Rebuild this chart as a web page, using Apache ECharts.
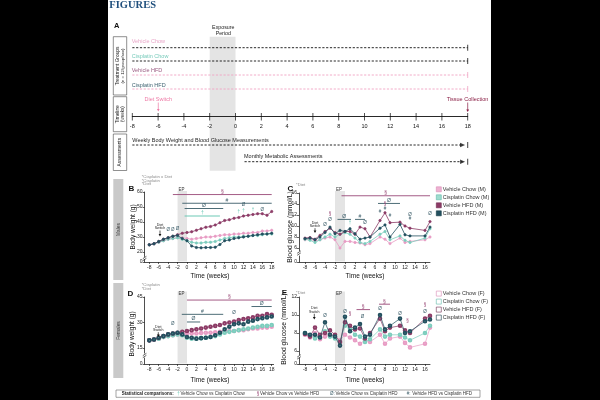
<!DOCTYPE html>
<html><head><meta charset="utf-8">
<script src="https://cdn.jsdelivr.net/npm/echarts@6.0.0/dist/echarts.min.js"></script>
<style>
html,body{margin:0;padding:0;background:#000;}
#c{width:600px;height:400px;background:linear-gradient(to right,#000 108.5px,#fff 108.5px,#fff 490.7px,#000 490.7px);}
</style>
</head><body><div id="c"></div>
<script>
// ---------------- DATA ----------------
const groupNames = ['Vehicle Chow','Cisplatin Chow','Vehicle HFD','Cisplatin HFD'];
const timelineTicks = [-8,-6,-4,-2,0,2,4,6,8,10,12,14,16,18];
const exposureWeeks = [-2,0];
const studyWeeks = [-8,18];
const dietSwitchWeek = -6;
const tissueWeek = 18;
const weeklyAssess = [-8,17.6];
const monthlyAssess = [0.7,17.6];

const bwTicks = [-8,-6,-4,-2,0,2,4,6,8,10,12,14,16,18];
const bgTicks = [-8,-6,-4,-2,0,2,4,6,8,10,12,14,16];
const bwMaleYTicks = [20,30,40,50,60];
const bgMaleYTicks = [6,8,10,12,14,16];
const bwFemYTicks = [15,30,45];
const bgFemYTicks = [6,8,10,12];

const weeksBW = [-8,-7,-6,-5,-4,-3,-2,-1,0,1,2,3,4,5,6,7,8,9,10,11,12,13,14,15,16,17,18];
const bwVehChowM = [24.8,25.5,26.5,27.5,28.5,29,29.5,29.5,29,28.5,29,29.5,30,30,30.5,31,31.5,31.5,32,32,32.5,32.5,33,33,34,34,34.5];
const bwCisChowM = [24.8,25.5,26.5,27.5,28.5,29,29.5,28.5,27.5,26.5,26,26,26.5,26.5,27,28,29,29.5,30,30,30.5,30.5,31,31,31.5,32,32];
const bwVehHfdM  = [24.8,25.5,27,28.5,29.5,30.5,31.5,32.5,33,33.5,34.5,35.5,36.5,37,38,39.5,41,41.5,42.5,43,44,44.5,45,45.5,45.5,44.5,47];
const bwCisHfdM  = [24.8,25.5,27,28.5,29.5,30.5,31,29,27.5,24,23,22.8,23,23,23.2,25,27.5,28,29,29.5,30,30.5,31,31.5,32,32,32.5];

const bwVehChowF = [19.5,20,20.5,21.5,22,22.5,23,23.5,23.5,23.5,23.5,23.8,24,24,24.3,24.5,24.5,25,25,25.5,25.5,26,26.5,26.5,27,27,27.5];
const bwCisChowF = [19.5,20,20.5,21.5,22,22.5,23,22.5,21,20.5,20.5,20.8,21,21.5,22,23,24,24.5,25,25.5,26,26.5,27,27.5,28,28,28.5];
const bwVehHfdF  = [19.5,20,21,22,23,23.5,24,24.5,25,25.5,26,26.5,27,27.5,28,28.5,29.5,30,30.5,31.5,32,32.5,33,34,34,35,34.5];
const bwCisHfdF  = [19.5,20,21,22,23,23.5,24,23,21.5,21,20.5,20.8,21,21.5,22.5,24,26,27.5,29,29.5,29,30.5,31,32,32.5,33,33.5];

const weeksBG = [-8,-7,-6,-5,-4,-3,-2,-1,0,1,2,3,4,5,7,8,9,11,12,13,16,17];
const bgVehChowM = [7.5,7.6,7.3,7.5,7.8,8.0,7.5,6.0,7.2,7.2,7.0,6.9,6.6,6.8,8.0,7.6,6.8,7.8,7.0,7.2,7.5,8.0];
const bgCisChowM = [7.6,7.4,7.0,7.5,8.0,8.5,8.0,8.5,8.8,8.5,7.8,7.0,6.8,7.2,8.5,9.0,7.5,8.2,7.4,7.0,7.8,9.5];
const bgVehHfdM  = [7.8,7.9,7.6,8.3,9.0,9.6,8.8,8.5,9.0,9.0,8.5,9.8,9.5,8.0,11.0,12.4,10.6,10.7,10.0,9.6,9.2,10.8];
const bgCisHfdM  = [7.7,7.8,7.5,8.0,8.8,9.8,8.6,9.2,9.0,9.5,8.6,7.6,7.8,8.0,9.6,10.2,8.0,10.3,8.4,8.2,8.2,9.8];

const bgVehChowF = [7.8,7.5,8.0,7.3,7.6,7.8,7.6,7.2,7.8,7.5,7.2,6.8,7.2,7.0,7.8,6.8,7.4,7.6,6.9,6.4,6.8,8.6];
const bgCisChowF = [8.0,7.7,7.4,7.6,8.2,7.6,7.4,7.0,8.8,8.5,7.8,7.6,7.0,7.3,8.4,7.6,7.8,7.8,7.5,7.2,8.0,8.8];
const bgVehHfdF  = [7.9,7.6,8.6,7.8,8.0,8.3,7.8,7.0,9.2,8.8,8.4,8.5,7.4,8.0,9.6,8.2,8.6,8.8,8.3,8.0,9.6,9.9];
const bgCisHfdF  = [8.0,7.8,7.8,7.5,9.2,7.8,7.6,6.6,9.8,8.2,8.6,9.0,7.6,7.8,10.0,8.4,8.8,9.6,8.0,8.2,9.3,9.5];

// significance spans [fromWeek, toWeek, symbol]
const sigB = [[-3,18,'§'],[-1,18,'#'],[-0.5,7.7,'Ø'],[-0.5,7,'†']];
const sigC = [[-0.7,17,'§'],[6.6,11,'Ø'],[-1.5,1.2,'Ø'],[2,4,'#']];
const sigD = [[0,18,'§'],[-1.1,7.7,'#'],[0,2.8,'Ø'],[13.7,18,'Ø']];
const sigE = [[2.3,5,'§'],[6.8,9,'§']];
// point annotations [week, value, symbol]
const annB = [[-4,34.5,'Ø'],[-3,35,'Ø'],[-2,35.5,'Ø'],[11,47,'†'],[12,47.5,'†'],[12,51.5,'Ø'],[14,48,'†'],[16,48,'Ø']];
const annC = [[-4,10.3,'Ø'],[-3,12.2,'§'],[-3,11.2,'Ø'],[1,10.6,'†'],[4,10.6,'Ø'],[7,12.5,'#'],[8,14.0,'§'],[8,13.2,'#'],[9,11.8,'#'],[13,12.1,'Ø'],[13,11.3,'#'],[17,12.2,'Ø']];
const annD = [[-3,29.5,'Ø'],[10,35.5,'Ø']];
const annE = [[-4,9.9,'Ø'],[0,10.4,'Ø'],[1,10.1,'§'],[3.5,9.8,'Ø'],[7,10.7,'Ø'],[11,10.1,'Ø'],[12.5,9.4,'§'],[16,11.1,'§'],[16,10.4,'Ø']];

// ---------------- LAYOUT / STYLE ----------------
const FONT = '"Liberation Sans", Arial, sans-serif';
const COL = {vc:'#e89cc4', cc:'#7ccdbd', vh:'#8c3b66', ch:'#23505f'};
const SYMCOL = {'§':'#9a4a78','#':'#3a5c68','Ø':'#3a5c68','†':'#5cc3ad'};
const AX = '#222';
// lanes in panel A (axis units)
const laneGroups = [69,55.7,41.7,27.7];
const laneWeekly = -28.3, laneMonthly = -45;

const grids=[], xAxes=[], yAxes=[], series=[];
function addGrid(left, top, width, height){
  grids.push({left, top, width, height, show:false, containLabel:false, outerBoundsMode:'none'});
  return grids.length-1;
}
function hiddenX(g,min,max){ xAxes.push({type:'value', gridIndex:g, min, max, show:false}); }
function hiddenY(g,min,max){ yAxes.push({type:'value', gridIndex:g, min, max, show:false}); }
function visX(g,min,max,ticks){
  xAxes.push({type:'value', gridIndex:g, min, max, z:5,
    axisLine:{show:true, onZero:false, lineStyle:{color:AX,width:0.8}},
    axisTick:{show:true, length:2, customValues:ticks, lineStyle:{color:AX,width:0.7}},
    axisLabel:{show:true, customValues:ticks, fontSize:5, color:AX, margin:3, fontFamily:FONT},
    splitLine:{show:false}});
}
function visY(g,min,max,ticks){
  yAxes.push({type:'value', gridIndex:g, min, max, z:5,
    axisLine:{show:true, onZero:false, lineStyle:{color:AX,width:0.8}},
    axisTick:{show:true, length:2, customValues:ticks, lineStyle:{color:AX,width:0.7}},
    axisLabel:{show:true, customValues:ticks, fontSize:5, color:AX, margin:2, fontFamily:FONT},
    splitLine:{show:false}});
}

// Panel A: main lane grid
const gA = addGrid(132.3, 36.7, 335.4, 134);
hiddenX(gA,-8,18); hiddenY(gA,-54,80);
// Panel A: timeline axis grid (its bottom edge is the timeline)
const gT = addGrid(132.3, 106.7, 335.4, 10);
xAxes.push({type:'value', gridIndex:gT, min:-8, max:18, interval:2, z:6,
  axisLine:{show:true, onZero:false, lineStyle:{color:'#111', width:0.9}},
  axisTick:{show:false}, splitLine:{show:false},
  axisLabel:{show:true, fontSize:5.5, color:'#111', margin:7, fontFamily:FONT}});
hiddenY(gT,0,1);

function bandSeries(g, range, yTop, yBot){
  return {type:'custom', xAxisIndex:g, yAxisIndex:g, silent:true, z:1, data:[[range[0],range[1]]],
    renderItem:function(p,api){
      const a=api.coord([api.value(0),yTop]); const b=api.coord([api.value(1),yBot]);
      return {type:'rect', shape:{x:a[0],y:a[1],width:b[0]-a[0],height:b[1]-a[1]}, style:{fill:'#e4e4e4'}};
    }};
}
series.push(bandSeries(gA, exposureWeeks, 80, -54));
const groupLineCols = ['#111','#111','#f0a3c3','#f0a3c3'];
groupNames.forEach((n,i)=>{
  series.push({type:'line', xAxisIndex:gA, yAxisIndex:gA, silent:true, z:3, symbol:'none',
    data:[[studyWeeks[0],laneGroups[i]],[studyWeeks[1],laneGroups[i]]],
    lineStyle:{color:groupLineCols[i], width:0.9, type:[2.2,1.6]}});
});
series.push({type:'scatter', xAxisIndex:gA, yAxisIndex:gA, silent:true, z:4, symbol:'rect', symbolSize:[1,6],
  data: laneGroups.map((l,i)=>({value:[studyWeeks[1],l], itemStyle:{color:groupLineCols[i]}}))});
series.push({type:'scatter', xAxisIndex:gT, yAxisIndex:gT, silent:true, z:7, symbol:'rect', symbolSize:[0.9,7.5],
  clip:false, itemStyle:{color:'#111'}, data: timelineTicks.map(t=>[t,0])});
[[weeklyAssess,laneWeekly],[monthlyAssess,laneMonthly]].forEach(([rg,l])=>{
  series.push({type:'line', xAxisIndex:gA, yAxisIndex:gA, silent:true, z:3, symbol:'none',
    data:[[rg[0],l],[rg[1],l]], lineStyle:{color:'#111', width:0.9, type:[2.2,1.6]}});
});
series.push({type:'scatter', xAxisIndex:gA, yAxisIndex:gA, silent:true, z:4, symbol:'path://M0,0L10,5L0,10Z', symbolSize:[5,4.5],
  itemStyle:{color:'#111'}, data:[[weeklyAssess[1],laneWeekly],[monthlyAssess[1],laneMonthly]]});
series.push({type:'scatter', xAxisIndex:gA, yAxisIndex:gA, silent:true, z:4, symbol:'rect', symbolSize:[1,6],
  itemStyle:{color:'#111'}, data:[[tissueWeek,laneWeekly],[tissueWeek,laneMonthly]]});

// Panels B-E
const BWX = {left:144.6, width:129, min:-9, max:18.4};
const BGX = {left:299, width:131, min:-9.2, max:17};
const panels = [
  {x:BWX, ticks:bwTicks, mainTop:192, mainH:64.5, yMin:17, yMax:60, yTicks:bwMaleYTicks, lowTop:259.5, lowH:2.5, ovTop:191, ovH:70.5,
   weeks:weeksBW, data:[bwVehChowM,bwCisChowM,bwVehHfdM,bwCisHfdM], sex:'M', sig:sigB, sigLv:[58.3,52.5,49,44], ann:annB},
  {x:BGX, ticks:bgTicks, mainTop:193, mainH:57.75, yMin:5.5, yMax:16, yTicks:bgMaleYTicks, lowTop:256, lowH:6, ovTop:191, ovH:70.5,
   weeks:weeksBG, data:[bgVehChowM,bgCisChowM,bgVehHfdM,bgCisHfdM], sex:'M', sig:sigC, sigLv:[15.5,14.1,11.2,11.2], ann:annC},
  {x:BWX, ticks:bwTicks, mainTop:297, mainH:56.1, yMin:12, yMax:45, yTicks:bwFemYTicks, lowTop:358, lowH:6, ovTop:291.5, ovH:72,
   weeks:weeksBW, data:[bwVehChowF,bwCisChowF,bwVehHfdF,bwCisHfdF], sex:'F', sig:sigD, sigLv:[43.2,34.8,30.3,39.4], ann:annD},
  {x:BGX, ticks:bgTicks, mainTop:297, mainH:57.6, yMin:5.6, yMax:12, yTicks:bgFemYTicks, lowTop:358, lowH:6, ovTop:291.5, ovH:72,
   weeks:weeksBG, data:[bgVehChowF,bgCisChowF,bgVehHfdF,bgCisHfdF], sex:'F', sig:sigE, sigLv:[10.6,11.2], ann:annE}
];
const cols=[COL.vc,COL.cc,COL.vh,COL.ch];
panels.forEach(P=>{
  const gm = addGrid(P.x.left, P.mainTop, P.x.width, P.mainH);
  hiddenX(gm,P.x.min,P.x.max); visY(gm,P.yMin,P.yMax,P.yTicks);
  const gl = addGrid(P.x.left, P.lowTop, P.x.width, P.lowH);
  visX(gl,P.x.min,P.x.max,P.ticks); visY(gl,0,1,[0]);
  const go = addGrid(P.x.left, P.ovTop, P.x.width, P.ovH);
  hiddenX(go,P.x.min,P.x.max); hiddenY(go,0,1);
  series.push(bandSeries(go, exposureWeeks, 1, 0));
  P.data.forEach((arr,i)=>{
    const c=cols[i];
    series.push({type:'line', name:groupNames[i]+' ('+P.sex+')', xAxisIndex:gm, yAxisIndex:gm, z:5+i, silent:true,
      data: P.weeks.map((w,k)=>[w,arr[k]]),
      symbol: P.sex==='M'?'circle':'emptyCircle', symbolSize: P.sex==='M'?2.4:2.6, showSymbol:true,
      lineStyle:{color:c, width:P.sex==='M'?0.8:0.7}, itemStyle:{color:c, borderColor:c, borderWidth:0.6},
      emphasis:{disabled:true}});
  });
  series.push({type:'custom', xAxisIndex:gm, yAxisIndex:gm, silent:true, z:12,
    data: P.sig.map((s,i)=>[s[0],s[1],P.sigLv[i]]),
    renderItem:function(p,api){
      const s=P.sig[p.dataIndex]; const col=SYMCOL[s[2]];
      const a=api.coord([api.value(0),api.value(2)]); const b=api.coord([api.value(1),api.value(2)]);
      return {type:'group', children:[
        {type:'line', shape:{x1:a[0],y1:a[1],x2:b[0],y2:b[1]}, style:{stroke:col, lineWidth:0.9}},
        {type:'text', x:(a[0]+b[0])/2, y:a[1]-0.5, style:{text:s[2], fill:col, fontSize:5, fontFamily:FONT, align:'center', verticalAlign:'bottom'}}
      ]};
    }});
  series.push({type:'custom', xAxisIndex:gm, yAxisIndex:gm, silent:true, z:12,
    data: P.ann.map(a=>[a[0],a[1]]),
    renderItem:function(p,api){
      const s=P.ann[p.dataIndex][2]; const pt=api.coord([api.value(0),api.value(1)]);
      return {type:'text', x:pt[0], y:pt[1], style:{text:s, fill:SYMCOL[s], fontSize:4.5, fontFamily:FONT, align:'center', verticalAlign:'middle'}};
    }});
});

const legendFill = {M:[ '#eeb2d2','#9fdccf','#8c3b66','#23505f'], F:['#fff','#fff','#fff','#fff']};
const legendBorder = ['#d98ab5','#5fb9a7','#6e2a4f','#163a47'];
const legends = ['M','F'].map((sx,j)=>({
  orient:'vertical', left:436, top: sx==='M'?186.3:290.6, itemWidth:5, itemHeight:5, itemGap:2, padding:0,
  selectedMode:false, icon:'rect',
  textStyle:{fontSize:5.5, color:'#333', fontFamily:FONT, padding:[0,0,0,-3.5]},
  data: groupNames.map((n,i)=>({name:n+' ('+sx+')', itemStyle:{color:legendFill[sx][i], borderColor:legendBorder[i], borderWidth:0.6}}))
}));

// ---------------- GRAPHIC (text & frames) ----------------
const G=[];
function T(x,y,text,o){ o=o||{}; G.push({type:'text', x, y, rotation:o.rot||0, silent:true, z:50,
  style:{text, fill:o.color||'#222', fontSize:o.size||5, fontFamily:o.family||FONT, fontWeight:o.bold?'bold':'normal',
  align:o.align||'left', verticalAlign:'middle'}}); }
function R(x,y,w,h,o){ G.push({type:'rect', shape:{x,y,width:w,height:h}, silent:true, z:o.z||40, style:{fill:o.fill||'none', stroke:o.stroke||null, lineWidth:o.lw||0.6}}); }
function L(x1,y1,x2,y2,c,w){ G.push({type:'line', shape:{x1,y1,x2,y2}, silent:true, z:50, style:{stroke:c||'#222', lineWidth:w||0.7}}); }
function arrow(x,y1,y2,c,hw){ L(x,y1,x,y2-1.5,c,0.7); G.push({type:'polygon', silent:true, z:50, shape:{points:[[x-hw,y2-2.6],[x+hw,y2-2.6],[x,y2]]}, style:{fill:c}}); }

T(109.3,5.5,'FIGURES',{size:10.5,bold:true,color:'#1f4f7d',family:'"Liberation Serif", "DejaVu Serif", serif'});
T(114,25.8,'A',{size:7.5,bold:true,color:'#111'});
T(223.3,27.7,'Exposure',{size:5.3,align:'center'});
T(223.3,33.3,'Period',{size:5.3,align:'center'});
R(113.3,36.7,13.4,58.3,{stroke:'#444'});
R(113.3,96.7,13.4,35,{stroke:'#444'});
R(113.3,134,13.4,36.5,{stroke:'#444'});
T(118,66,'Treatment Groups',{size:4.8,align:'center',rot:Math.PI/2});
T(122.6,66,'(n = 12/group/sex)',{size:4.3,align:'center',rot:Math.PI/2});
T(118,114.2,'Timeline',{size:4.8,align:'center',rot:Math.PI/2});
T(122.6,114.2,'(weeks)',{size:4.5,align:'center',rot:Math.PI/2});
T(120,152.2,'Assessments',{size:4.8,align:'center',rot:Math.PI/2});
const groupLabelCols=['#e9a6c8','#78cbbb','#9a5a80','#3d6270'];
const groupLabelY=[41.7,56.7,70.7,85];
groupNames.forEach((n,i)=>T(131.7,groupLabelY[i],n,{size:5.5,color:groupLabelCols[i]}));
T(158.3,99.3,'Diet Switch',{size:5.5,align:'center',color:'#ee7aa6'});
arrow(158.3,102.5,111.5,'#ee7aa6',1.3);
T(467.5,99.3,'Tissue Collection',{size:5.5,align:'center',color:'#8a1f45'});
arrow(467.7,102.5,112,'#8a1f45',1.4);
T(132.3,140,'Weekly Body Weight and Blood Glucose Measurements',{size:5.5});
T(244,156.7,'Monthly Metabolic Assessments',{size:5.5});

// sex side bars
R(113.3,179,10,101,{fill:'#c9c9c9',z:30});
T(118.3,229.5,'Males',{size:4.8,align:'center',rot:Math.PI/2,color:'#333'});
R(113.3,283,10,95,{fill:'#c9c9c9',z:30});
T(118.3,330.5,'Females',{size:4.8,align:'center',rot:Math.PI/2,color:'#333'});

// panel letters and titles
T(131.3,188.5,'B',{size:8,bold:true,align:'center',color:'#111'});
T(290.5,188.5,'C',{size:8,bold:true,align:'center',color:'#111'});
T(130.3,293.3,'D',{size:8,bold:true,align:'center',color:'#111'});
T(284.5,292.5,'E',{size:8,bold:true,align:'center',color:'#111'});
T(133,227,'Body weight (g)',{size:6.5,align:'center',rot:Math.PI/2,color:'#111'});
T(132.5,334,'Body weight (g)',{size:6.5,align:'center',rot:Math.PI/2,color:'#111'});
T(290.5,227,'Blood glucose (mmol/L)',{size:6.8,align:'center',rot:Math.PI/2,color:'#111'});
T(284.5,329,'Blood glucose (mmol/L)',{size:6.8,align:'center',rot:Math.PI/2,color:'#111'});
T(210,276.7,'Time (weeks)',{size:6.5,align:'center',color:'#111'});
T(365,276.7,'Time (weeks)',{size:6.5,align:'center',color:'#111'});
T(210,380,'Time (weeks)',{size:6.5,align:'center',color:'#111'});
T(365,380,'Time (weeks)',{size:6.5,align:'center',color:'#111'});
const gcol='#8a8a8a';
T(141.7,176.7,'*Cisplatin x Diet',{size:4.3,color:gcol});
T(141.7,180.5,'*Cisplatin',{size:4.3,color:gcol});
T(141.7,184.3,'*Diet',{size:4.3,color:gcol});
T(296,185,'*Diet',{size:4.3,color:gcol});
T(141.7,285.2,'*Cisplatin',{size:4.3,color:gcol});
T(141.7,289,'*Diet',{size:4.3,color:gcol});
T(296,292.7,'*Diet',{size:4.3,color:gcol});
T(181.5,189.5,'EP',{size:4.5,align:'center',color:'#333'});
T(339,189.5,'EP',{size:4.5,align:'center',color:'#333'});
T(181.5,293.5,'EP',{size:4.5,align:'center',color:'#333'});
T(339,294,'EP',{size:4.5,align:'center',color:'#333'});
// diet switch markers in B-E
[[160,225,236.5],[315,222.7,233],[158.3,326.7,337],[314.3,308.3,319.5]].forEach(([x,y,ya])=>{
  T(x,y,'Diet',{size:3.6,align:'center',color:'#222'});
  T(x,y+3.4,'Switch',{size:3.6,align:'center',color:'#222'});
  arrow(x,y+5.5,ya,'#111',1.4);
});
// axis breaks
[[144.6,256.6],[299,251.2],[144.6,353.6],[299,355]].forEach(([x,y])=>{
  L(x-1.8,y+2.1,x+1.8,y-0.3,'#222',0.7);
  L(x-1.8,y+4.1,x+1.8,y+1.7,'#222',0.7);
});
// statistical comparisons box
R(116,390,364,7.3,{stroke:'#666'});
T(121.7,393.7,'Statistical comparisons:',{size:4.5,bold:true,color:'#222'});
[[177.3,'†','Vehicle Chow vs Cisplatin Chow'],[256.7,'§','Vehicle Chow vs Vehicle HFD'],[330,'Ø:','Vehicle Chow vs Cisplatin HFD'],[406.7,'#:','Vehicle HFD vs Cisplatin HFD']].forEach(([x,s,t])=>{
  T(x,393.7,s,{size:4.5,color:SYMCOL[s[0]]});
  T(x+(s.length>1?5.5:3.2),393.7,t,{size:4.5,color:'#333'});
});

const chart = echarts.init(document.getElementById('c'), null, {renderer:'canvas'});
chart.setOption({
  backgroundColor:'transparent', animation:false, textStyle:{fontFamily:FONT},
  grid:grids, xAxis:xAxes, yAxis:yAxes, legend:legends, series, graphic:G
});
</script></body></html>
